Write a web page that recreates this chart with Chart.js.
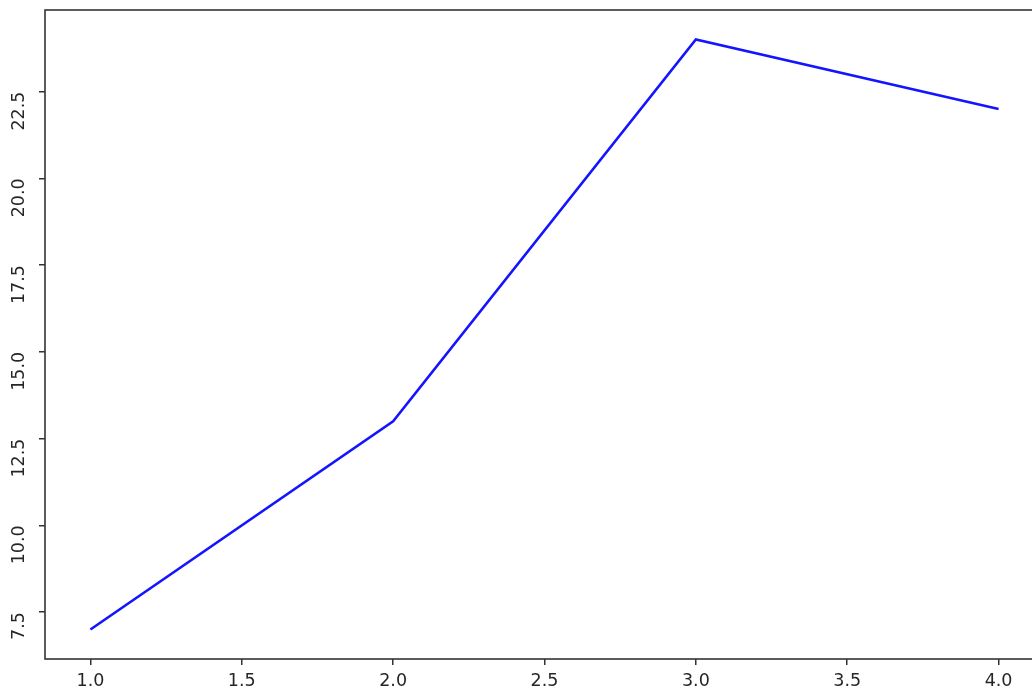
<!DOCTYPE html>
<html>
<head>
<meta charset="utf-8">
<script src="https://cdn.jsdelivr.net/npm/chart.js@4/dist/chart.umd.min.js"></script>
<style>
  html, body { margin: 0; padding: 0; background: #fff; overflow: hidden; }
  #wrap { width: 1060px; height: 691px; }
</style>
</head>
<body>
<div id="wrap"><canvas id="chart" width="1060" height="691"></canvas></div>
<script>
// data
const xValues = [1, 2, 3, 4];
const yValues = [7, 13, 24, 22];
const xTicks = [1.0, 1.5, 2.0, 2.5, 3.0, 3.5, 4.0];
const yTicks = [7.5, 10.0, 12.5, 15.0, 17.5, 20.0, 22.5];

const axisColor = '#333333';
const textColor = '#262626';

// matplotlib-style box around the plot area
const framePlugin = {
  id: 'frame',
  afterDatasetsDraw(chart) {
    const { ctx, chartArea } = chart;
    ctx.save();
    ctx.strokeStyle = axisColor;
    ctx.lineWidth = 1.6;
    ctx.strokeRect(chartArea.left, chartArea.top,
      chartArea.right - chartArea.left, chartArea.bottom - chartArea.top);
    ctx.restore();
  }
};

// keep the plot box where the reference has it
function noEdgePadding(s) {
  s.paddingTop = 0;
  s.paddingBottom = 0;
  s.paddingLeft = 0;
  s.paddingRight = 0;
}

Chart.defaults.font.family = 'DejaVu Sans';
Chart.defaults.font.size = 17.5;
Chart.defaults.color = textColor;

new Chart(document.getElementById('chart'), {
  type: 'line',
  data: {
    datasets: [{
      data: xValues.map((x, i) => ({ x: x, y: yValues[i] })),
      borderColor: '#1414ff',
      borderWidth: 2.6,
      pointRadius: 0,
      tension: 0,
      fill: false
    }]
  },
  options: {
    responsive: false,
    animation: false,
    layout: { padding: { top: 10, right: 16, left: 0, bottom: 0 } },
    plugins: { legend: { display: false }, tooltip: { enabled: false } },
    scales: {
      x: {
        type: 'linear',
        min: 0.85,
        max: 4.15,
        afterBuildTicks: s => { s.ticks = xTicks.map(v => ({ value: v })); },
        afterFit: s => { s.height = 32; noEdgePadding(s); },
        border: { display: false },
        grid: { drawOnChartArea: false, drawTicks: true, tickLength: 6, color: axisColor, lineWidth: 1.5 },
        ticks: { autoSkip: false, maxRotation: 0, padding: 6, callback: v => v.toFixed(1) }
      },
      y: {
        type: 'linear',
        min: 6.15,
        max: 24.85,
        afterBuildTicks: s => { s.ticks = yTicks.map(v => ({ value: v })); },
        afterFit: s => { s.width = 45; noEdgePadding(s); },
        border: { display: false },
        grid: { drawOnChartArea: false, drawTicks: true, tickLength: 6, color: axisColor, lineWidth: 1.5 },
        // rotated labels hang below their tick, as in the reference
        ticks: { autoSkip: false, minRotation: 90, maxRotation: 90, crossAlign: 'near', padding: 20, callback: v => v.toFixed(1) }
      }
    }
  },
  plugins: [framePlugin]
});
</script>
</body>
</html>
